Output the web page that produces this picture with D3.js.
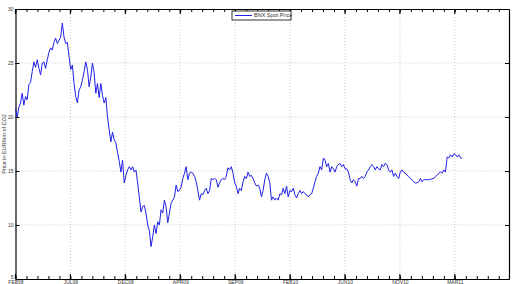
<!DOCTYPE html>
<html>
<head>
<meta charset="utf-8">
<script src="https://cdn.jsdelivr.net/npm/d3@7"></script>
<style>
  body { margin: 0; background: #fff; }
  svg { display: block; font-family: "Liberation Sans", Arial, sans-serif; }
  .grid line { stroke: #bbb; stroke-dasharray: 1,2; stroke-width: 0.8; }
  .tick text { fill: #333; }
</style>
</head>
<body>
<div id="container"></div>
<script>
// x axis: days since FEB08, labels every 150 days, minor ticks every 30
var monthLabels = ["FEB08", "JUL08", "DEC08", "APR09", "SEP09", "FEB10", "JUN10", "NOV10", "MAR11"];
var yTicks = [5, 10, 15, 20, 25, 30];
var seriesName = "BNX Spot Price";
var sampleDays = 4.57; // spacing between samples, in days

// spot price (EUR/t)
var price = [
  20.8, 20.0, 20.9, 21.3, 22.2, 21.1, 21.9, 21.6, 23.0, 23.2, 24.2, 25.1, 24.6, 25.3, 24.5, 23.9,
  25.0, 25.1, 24.5, 25.3, 26.0, 26.4, 26.2, 26.9, 27.3, 26.8, 27.1, 27.4, 28.7, 27.4, 26.8, 26.9,
  25.6, 24.4, 24.8, 23.1, 21.9, 21.3, 22.5, 22.8, 23.4, 24.2, 25.1, 24.4, 22.8, 23.7, 25.0, 24.1,
  22.2, 23.1, 21.8, 23.1, 22.0, 21.3, 21.8,
  20.0, 18.8, 17.7, 18.6, 17.9, 17.6, 16.7, 15.9, 14.9, 16.0, 13.9, 14.6, 15.1, 15.4, 15.1, 15.4,
  14.9, 15.1, 13.9, 12.6, 11.2, 11.7, 11.8, 11.1, 10.0, 9.5, 8.0, 8.9, 10.0, 9.2, 10.3, 10.0,
  11.4, 11.1, 12.3, 11.7, 10.2, 11.1, 12.0, 12.3, 12.6, 13.7, 13.1, 13.2, 13.5, 14.3, 14.8, 15.4,
  14.2, 14.8, 14.9, 14.8, 14.5, 14.0, 13.2, 12.3, 12.9, 12.8, 13.2, 13.4, 12.9, 13.2, 14.3, 14.2,
  14.3, 14.2, 13.5, 13.9, 14.2, 14.3, 14.2, 14.5, 15.3, 15.1,
  15.4, 14.8, 13.9, 13.6, 12.9, 13.4, 13.2, 14.0, 14.5, 14.3, 14.9, 14.5, 14.6, 14.3, 13.9, 13.6,
  13.7, 13.4, 12.6, 13.2, 14.2, 14.8, 14.5, 13.9, 12.3, 12.6, 12.3, 12.5, 12.3, 12.9, 12.8, 13.4,
  12.9, 13.6, 12.6, 13.2, 13.1, 13.4, 12.8, 12.5, 12.9, 13.2, 12.9, 13.1, 12.9, 12.8, 12.6, 12.8,
  12.9, 13.4, 14.0, 14.5, 14.8, 15.4, 15.1, 16.2, 16.0, 15.4, 15.7, 14.9, 15.4, 15.2, 14.9, 15.4,
  15.6, 15.7, 15.4, 15.6, 15.2, 15.2, 14.9, 14.2, 13.9, 14.2, 14.0, 13.6, 14.3, 14.3, 14.5, 14.3,
  14.5, 14.9, 15.1, 15.4, 15.6, 15.4, 15.1, 15.4, 15.2, 15.1, 15.6, 15.4, 15.7, 15.6, 15.1, 14.9,
  15.1, 14.5, 14.8, 14.5, 14.3, 14.9, 15.1, 14.9, 14.8, 14.6, 14.5, 14.3, 14.2, 14.0, 13.9, 13.9,
  14.0, 14.3, 14.0, 14.2, 14.2, 14.2, 14.2, 14.2, 14.3, 14.3, 14.5, 14.6, 14.8, 14.9, 14.8, 15.1,
  14.9, 16.3, 16.2, 16.5, 16.3, 16.6, 16.5, 16.3, 16.5, 16.2, 16.2
];

var width = 513, height = 284;
var margin = { left: 15.5, right: 4, top: 9, bottom: 5 };

var svg = d3.select("#container")
  .append("svg")
  .attr("width", width)
  .attr("height", height);

var x = d3.scaleLinear().domain([0, 1348]).range([margin.left, width - margin.right]);
var y = d3.scaleLinear().domain([5, 30]).range([height - margin.bottom, margin.top]);

var majorDays = monthLabels.map(function(d, i) { return i * 150; });
var minorDays = d3.range(0, 1348, 30);

// grid
var grid = svg.append("g").classed("grid", true);
grid.selectAll(".vg")
  .data(majorDays.slice(1))
  .enter().append("line")
    .attr("x1", function(d) { return x(d); })
    .attr("x2", function(d) { return x(d); })
    .attr("y1", y(5))
    .attr("y2", y(30));
grid.selectAll(".hg")
  .data(yTicks.slice(1, -1))
  .enter().append("line")
    .attr("x1", x(0))
    .attr("x2", x(1348))
    .attr("y1", function(d) { return y(d); })
    .attr("y2", function(d) { return y(d); });

// axes, ticks pointing inward like the original
var labelIndex = {};
majorDays.forEach(function(d, i) { labelIndex[d] = monthLabels[i]; });

var xBottom = d3.axisBottom(x)
  .tickValues(minorDays)
  .tickSizeInner(-3)
  .tickSizeOuter(0)
  .tickPadding(1.2)
  .tickFormat(function(d) { return labelIndex[d] || ""; });
var xTop = d3.axisTop(x)
  .tickValues(minorDays)
  .tickSizeInner(-3)
  .tickSizeOuter(0)
  .tickFormat("");
var yLeft = d3.axisLeft(y)
  .tickValues(yTicks)
  .tickSizeInner(-4)
  .tickSizeOuter(0)
  .tickPadding(2)
  .tickFormat(d3.format("d"));
var yRight = d3.axisRight(y)
  .tickValues(yTicks)
  .tickSizeInner(-4)
  .tickSizeOuter(0)
  .tickFormat("");

function styleAxis(g) {
  g.selectAll("text").style("font-size", "5px");
  g.selectAll("line").attr("stroke", "#000");
  g.select(".domain").attr("stroke", "#000").attr("stroke-width", 1.2);
}

svg.append("g").attr("transform", "translate(0," + y(5) + ")").call(xBottom).call(styleAxis);
svg.append("g").attr("transform", "translate(0," + y(30) + ")").call(xTop).call(styleAxis);
var yAxisG = svg.append("g").attr("transform", "translate(" + x(0) + ",0)").call(yLeft).call(styleAxis);
svg.append("g").attr("transform", "translate(" + x(1348) + ",0)").call(yRight).call(styleAxis);

// lift the bottom "5" a little so it clears FEB08
yAxisG.selectAll(".tick text")
  .filter(function(d) { return d === 5; })
  .attr("dy", "-0.1em");

// major x ticks a bit longer, top and bottom
svg.selectAll(".majorTick")
  .data(majorDays)
  .enter().append("line")
    .attr("x1", function(d) { return x(d); })
    .attr("x2", function(d) { return x(d); })
    .attr("y1", y(5))
    .attr("y2", y(5) - 5)
    .attr("stroke", "#000")
    .attr("stroke-width", 1.2);
svg.selectAll(".majorTickTop")
  .data(majorDays)
  .enter().append("line")
    .attr("x1", function(d) { return x(d); })
    .attr("x2", function(d) { return x(d); })
    .attr("y1", y(30))
    .attr("y2", y(30) + 5)
    .attr("stroke", "#000")
    .attr("stroke-width", 1.2);

svg.append("text")
  .attr("transform", "translate(6," + (y(17.5)) + ") rotate(-90)")
  .attr("text-anchor", "middle")
  .style("font-size", "5.5px")
  .style("fill", "#333")
  .text("Price in EUR/ton of CO2");

// series
var line = d3.line()
  .x(function(d, i) { return x(i * sampleDays); })
  .y(function(d) { return y(d); });

svg.append("path")
  .datum(price)
  .attr("d", line)
  .attr("fill", "none")
  .attr("stroke", "#2020e8")
  .attr("stroke-width", 1);

// legend
var legend = svg.append("g")
  .classed("legend", true)
  .attr("transform", "translate(232,11)");
legend.append("rect")
  .attr("width", 59)
  .attr("height", 9)
  .attr("fill", "#fff")
  .attr("stroke", "#000")
  .attr("stroke-width", 0.8);
legend.append("line")
  .attr("x1", 3).attr("x2", 20)
  .attr("y1", 4.5).attr("y2", 4.5)
  .attr("stroke", "#2020e8")
  .attr("stroke-width", 1);
legend.append("text")
  .attr("x", 22)
  .attr("y", 6.4)
  .style("font-size", "5.5px")
  .style("fill", "#333")
  .text(seriesName);
</script>
</body>
</html>
